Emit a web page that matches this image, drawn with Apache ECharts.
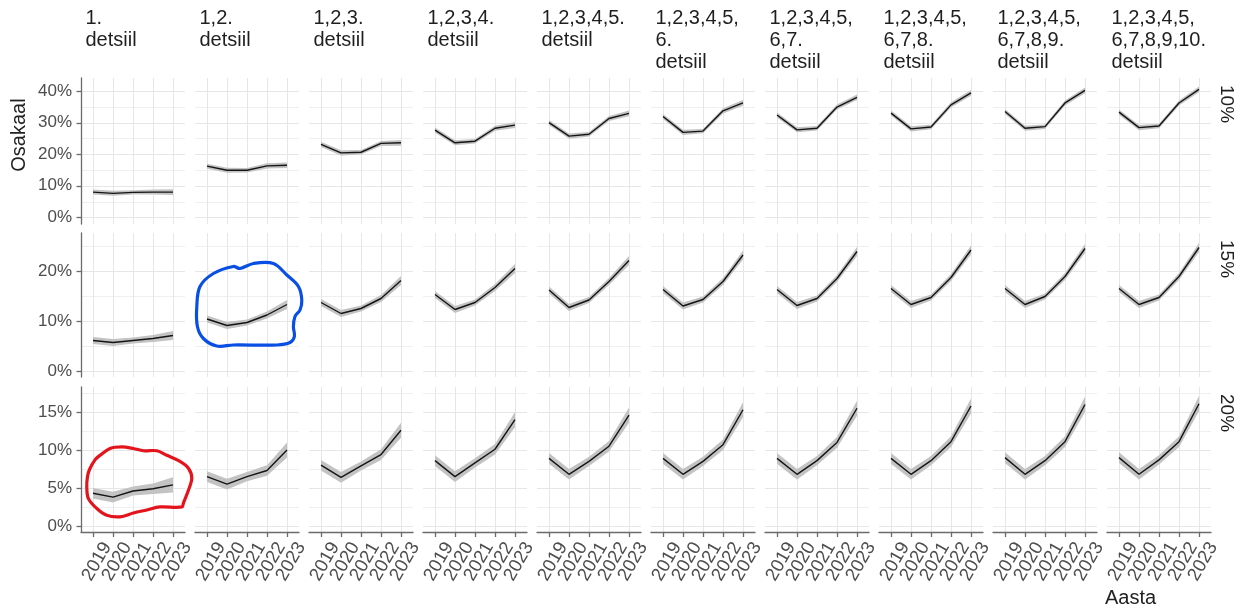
<!DOCTYPE html>
<html>
<head>
<meta charset="utf-8">
<script src="https://cdn.jsdelivr.net/npm/echarts@6/dist/echarts.min.js"></script>
<style>
  html, body { margin: 0; padding: 0; background: #ffffff; }
  #chart { width: 1242px; height: 610px; }
</style>
</head>
<body>
<div id="chart"></div>
<script>
// Years on the x axis
const years = [2019, 2020, 2021, 2022, 2023];

// Facet column titles (cumulative decile groups)
const columnTitles = [
  '1.\ndetsiil',
  '1,2.\ndetsiil',
  '1,2,3.\ndetsiil',
  '1,2,3,4.\ndetsiil',
  '1,2,3,4,5.\ndetsiil',
  '1,2,3,4,5,\n6.\ndetsiil',
  '1,2,3,4,5,\n6,7.\ndetsiil',
  '1,2,3,4,5,\n6,7,8.\ndetsiil',
  '1,2,3,4,5,\n6,7,8,9.\ndetsiil',
  '1,2,3,4,5,\n6,7,8,9,10.\ndetsiil'
];

// Facet row titles
const rowTitles = ['10%', '15%', '20%'];

// Estimated share (%) per column, 2019..2023 — threshold 10%
const share10 = [
  [8.0, 7.6, 7.9, 8.0, 8.0],
  [16.2, 14.9, 14.9, 16.3, 16.5],
  [23.1, 20.4, 20.6, 23.4, 23.6],
  [27.6, 23.6, 24.1, 28.2, 29.2],
  [30.0, 25.7, 26.3, 31.3, 32.9],
  [31.9, 26.9, 27.3, 33.7, 36.2],
  [32.4, 27.7, 28.2, 34.9, 38.0],
  [33.0, 28.0, 28.6, 35.6, 39.4],
  [33.5, 28.2, 28.7, 36.2, 40.2],
  [33.3, 28.4, 28.9, 36.2, 40.5]
];
// threshold 15%
const share15 = [
  [6.1, 5.7, 6.1, 6.5, 7.1],
  [10.4, 9.1, 9.7, 11.2, 13.3],
  [13.7, 11.5, 12.5, 14.5, 18.1],
  [15.3, 12.3, 13.7, 16.7, 20.5],
  [16.2, 12.7, 14.2, 17.9, 22.1],
  [16.3, 13.0, 14.3, 17.9, 23.2],
  [16.3, 13.1, 14.5, 18.5, 23.9],
  [16.5, 13.3, 14.7, 18.7, 24.2],
  [16.5, 13.3, 14.9, 18.9, 24.5],
  [16.5, 13.3, 14.7, 18.9, 24.7]
];
// threshold 20%
const share20 = [
  [4.3, 3.8, 4.6, 4.9, 5.4],
  [6.5, 5.5, 6.5, 7.3, 10.0],
  [8.0, 6.4, 7.9, 9.4, 12.6],
  [8.6, 6.5, 8.3, 10.1, 14.0],
  [8.9, 6.8, 8.5, 10.5, 14.6],
  [8.9, 6.8, 8.5, 10.7, 15.3],
  [8.9, 6.8, 8.6, 11.0, 15.5],
  [8.9, 6.8, 8.6, 11.1, 15.8],
  [9.0, 6.8, 8.6, 11.1, 16.0],
  [9.0, 6.8, 8.7, 11.1, 16.1]
];

// Confidence band half-widths (percentage points) per year
const ci10 = [0.8, 0.8, 0.7, 0.8, 0.9];
const ci15 = [0.7, 0.7, 0.6, 0.7, 0.9];
const ci20 = [0.7, 0.7, 0.6, 0.7, 1.0];

// y-axis ticks (labelled) and minor grid values per row
const ticks10 = [0, 10, 20, 30, 40];
const ticks15 = [0, 10, 20];
const ticks20 = [0, 5, 10, 15];
const minor10 = [5, 15, 25, 35];
const minor15 = [5, 15, 25];
const minor20 = [2.5, 7.5, 12.5, 17.5];

// Highlight outlines, in (year, %) of the panel they circle
const blueOutline = [
  [2018.65, 16.9], [2019.32, 19.5], [2020.32, 20.9], [2020.65, 20.5], [2021.32, 21.5],
  [2022.32, 21.5], [2022.99, 19.2], [2023.57, 16.9], [2023.74, 14.2], [2023.65, 12.2],
  [2023.40, 10.9], [2023.32, 8.9], [2023.37, 6.9], [2023.15, 5.7], [2022.49, 5.2],
  [2020.32, 5.2], [2019.49, 5.0], [2018.82, 6.5], [2018.52, 8.9], [2018.49, 12.9]
];
const redOutline = [
  [2018.82, 7.4], [2019.10, 8.7], [2019.35, 9.3], [2019.85, 10.2], [2020.44, 10.4],
  [2021.02, 10.2], [2021.52, 9.9], [2022.19, 9.9], [2022.69, 9.3], [2023.35, 8.5],
  [2023.77, 7.6], [2023.94, 6.3], [2023.77, 4.7], [2023.52, 3.0], [2023.44, 2.5],
  [2022.35, 2.5], [2021.69, 2.1], [2021.02, 1.7], [2020.35, 1.2], [2019.69, 1.4],
  [2019.19, 2.3], [2018.77, 3.6], [2018.69, 5.1], [2018.72, 6.4]
];

// ---- layout & style ----
const FONT = '"Liberation Sans", Arial, sans-serif';
const AXIS_COLOR = '#6b6b6b';
const TICK_TEXT = '#4d4d4d';
const GRID_MAJOR = '#e6e6e6';
const GRID_MINOR = '#efefef';
const RIBBON = '#c3c3c3';
const LINE = '#141414';

const colLeft0 = 81, colStep = 114, panelW = 104;
const rowTop = [78, 233, 387];
const rowH = [146, 144, 145];
const yLimits = [[-2.1, 44.1], [-1.2, 27.6], [-0.8, 18.3]];
const xLimits = [2018.4, 2023.6];

const rowValues = [share10, share15, share20];
const rowCi = [ci10, ci15, ci20];
const rowTicks = [ticks10, ticks15, ticks20];
const rowMinor = [minor10, minor15, minor20];

const grids = [], xAxes = [], yAxes = [], series = [], graphics = [];

for (let r = 0; r < 3; r++) {
  for (let c = 0; c < 10; c++) {
    const idx = r * 10 + c;
    const left = colLeft0 + c * colStep;
    grids.push({ left: left, top: rowTop[r], width: panelW, height: rowH[r] });

    const bottomRow = r === 2;
    const firstCol = c === 0;
    xAxes.push({
      gridIndex: idx, type: 'value', min: xLimits[0], max: xLimits[1],
      axisLine: { show: bottomRow, onZero: false, lineStyle: { color: AXIS_COLOR, width: 1.3 } },
      axisTick: { show: false },
      axisLabel: { show: false },
      splitLine: { show: false }
    });
    yAxes.push({
      gridIndex: idx, type: 'value', min: yLimits[r][0], max: yLimits[r][1],
      axisLine: { show: firstCol, onZero: false, lineStyle: { color: AXIS_COLOR, width: 1.3 } },
      axisTick: { show: false },
      axisLabel: {
        show: firstCol, customValues: rowTicks[r], margin: 9,
        fontSize: 17, fontFamily: FONT, color: TICK_TEXT,
        formatter: v => v + '%'
      },
      splitLine: { show: false }
    });

    const est = rowValues[r][c];
    const ci = rowCi[r];
    const majors = rowTicks[r];
    const minors = rowMinor[r];
    const yl = yLimits[r];

    // background grid
    series.push({
      type: 'custom', xAxisIndex: idx, yAxisIndex: idx, z: 0, silent: true,
      data: [[years[2], est[2]]],
      renderItem: (params, api) => {
        const children = [];
        const hline = (v, color) => {
          const a = api.coord([xLimits[0], v]);
          const b = api.coord([xLimits[1], v]);
          const y = Math.round(a[1]) + 0.5;
          children.push({ type: 'line', shape: { x1: a[0], y1: y, x2: b[0], y2: y }, style: { stroke: color, lineWidth: 1 } });
        };
        minors.forEach(v => hline(v, GRID_MINOR));
        majors.forEach(v => hline(v, GRID_MAJOR));
        years.forEach(yr => {
          const a = api.coord([yr, yl[0]]);
          const b = api.coord([yr, yl[1]]);
          const x = Math.round(a[0]) + 0.5;
          children.push({ type: 'line', shape: { x1: x, y1: a[1], x2: x, y2: b[1] }, style: { stroke: GRID_MAJOR, lineWidth: 1 } });
        });
        return { type: 'group', children: children };
      }
    });

    // confidence band
    series.push({
      type: 'custom', xAxisIndex: idx, yAxisIndex: idx, z: 1, silent: true,
      data: [[years[2], est[2]]],
      renderItem: (params, api) => {
        const pts = [];
        for (let i = 0; i < years.length; i++) pts.push(api.coord([years[i], est[i] + ci[i]]));
        for (let i = years.length - 1; i >= 0; i--) pts.push(api.coord([years[i], est[i] - ci[i]]));
        return { type: 'polygon', shape: { points: pts }, style: { fill: RIBBON } };
      }
    });

    // estimate line
    series.push({
      type: 'line', xAxisIndex: idx, yAxisIndex: idx, z: 2, silent: true,
      data: years.map((y, i) => [y, est[i]]),
      showSymbol: false, symbol: 'none',
      lineStyle: { color: LINE, width: 1.4 }
    });

    // y ticks on the first column
    if (firstCol) {
      series.push({
        type: 'custom', xAxisIndex: idx, yAxisIndex: idx, z: 3, silent: true, clip: false,
        data: [[xLimits[0], majors[0]]],
        renderItem: (params, api) => ({
          type: 'group',
          children: majors.map(v => {
            const p = api.coord([xLimits[0], v]);
            const y = Math.round(p[1]) + 0.5;
            return { type: 'line', shape: { x1: p[0] - 4.5, y1: y, x2: p[0], y2: y }, style: { stroke: AXIS_COLOR, lineWidth: 1.3 } };
          })
        })
      });
    }

    // x ticks and rotated year labels under the bottom row (top-right corner pinned near the tick)
    if (bottomRow) {
      series.push({
        type: 'custom', xAxisIndex: idx, yAxisIndex: idx, z: 3, silent: true, clip: false,
        data: [[years[2], yl[0]]],
        renderItem: (params, api) => {
          const children = [];
          years.forEach(yr => {
            const p = api.coord([yr, yl[0]]);
            const x = Math.round(p[0]) + 0.5;
            children.push({ type: 'line', shape: { x1: x, y1: p[1], x2: x, y2: p[1] + 5 }, style: { stroke: AXIS_COLOR, lineWidth: 1.3 } });
            children.push({
              type: 'text', x: p[0] + 6, y: p[1] + 7, rotation: Math.PI / 3,
              style: { text: String(yr), font: '18.5px ' + FONT, fill: TICK_TEXT, align: 'right', verticalAlign: 'top' }
            });
          });
          return { type: 'group', children: children };
        }
      });
    }

    // top strip title
    if (r === 0) {
      graphics.push({
        type: 'text', x: left + 4.5, y: 7, silent: true,
        style: {
          text: columnTitles[c], fill: '#1f1f1f', font: '20px ' + FONT,
          lineHeight: 22, verticalAlign: 'top', textVerticalAlign: 'top', align: 'left', textAlign: 'left'
        }
      });
    }
  }
  // right strip title
  graphics.push({
    type: 'text', x: 1226, y: rowTop[r] + 7, rotation: -Math.PI / 2, silent: true,
    style: {
      text: rowTitles[r], fill: '#1f1f1f', font: '19px ' + FONT,
      align: 'left', textAlign: 'left', verticalAlign: 'middle', textVerticalAlign: 'middle'
    }
  });
}

// hand-drawn highlight rings
function outlineSeries(gridIdx, pts, color) {
  return {
    type: 'custom', xAxisIndex: gridIdx, yAxisIndex: gridIdx, z: 10, silent: true,
    data: [pts[0]],
    renderItem: (params, api) => ({
      type: 'polygon',
      shape: { points: pts.map(p => api.coord(p)), smooth: 0.35 },
      style: { fill: 'none', stroke: color, lineWidth: 3.2, lineJoin: 'round' }
    })
  };
}
series.push(outlineSeries(11, blueOutline, '#0a4fe3'));
series.push(outlineSeries(20, redOutline, '#e3141c'));

// axis titles
graphics.push({
  type: 'text', x: 19, y: 135, rotation: Math.PI / 2, silent: true,
  style: { text: 'Osakaal', fill: '#222222', font: '20px ' + FONT, align: 'center', textAlign: 'center', verticalAlign: 'middle', textVerticalAlign: 'middle' }
});
graphics.push({
  type: 'text', x: 1105, y: 598, silent: true,
  style: { text: 'Aasta', fill: '#222222', font: '20px ' + FONT, align: 'left', textAlign: 'left', verticalAlign: 'middle', textVerticalAlign: 'middle' }
});

const chart = echarts.init(document.getElementById('chart'), null, { renderer: 'canvas' });
chart.setOption({
  animation: false,
  backgroundColor: '#ffffff',
  grid: grids,
  xAxis: xAxes,
  yAxis: yAxes,
  series: series,
  graphic: graphics
});
</script>
</body>
</html>
